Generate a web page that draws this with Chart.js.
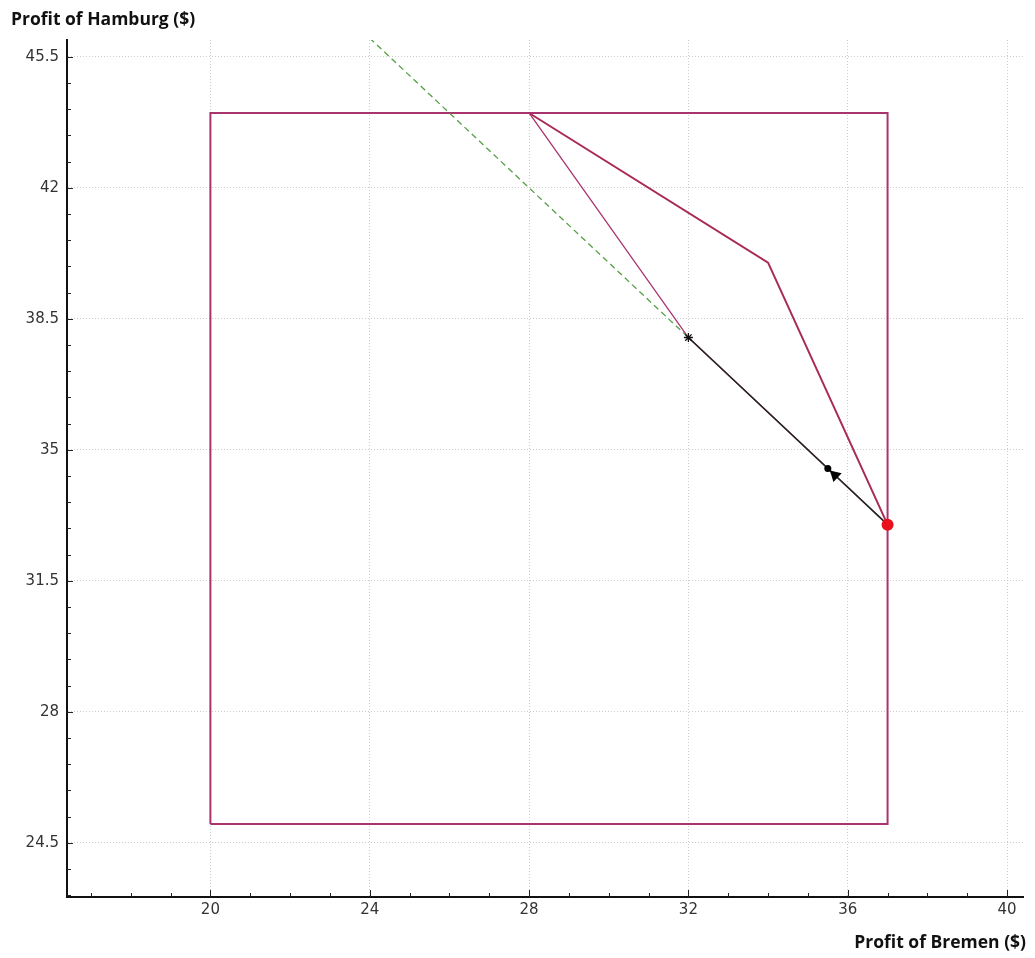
<!DOCTYPE html>
<html>
<head>
<meta charset="utf-8">
<script src="https://cdn.jsdelivr.net/npm/chart.js@4.4.1/dist/chart.umd.min.js"></script>
<style>
  html, body { margin: 0; padding: 0; background: #fff; }
  #wrap { position: relative; width: 1035px; height: 958px; }
</style>
</head>
<body>
<div id="wrap"><canvas id="c" width="1035" height="958"></canvas></div>
<script>
// Feasible profit region (rectangle of attainable profits)
const boxX = [20, 37, 37, 20, 20];
const boxY = [25, 25, 44, 44, 25];
// Outer frontier
const frontierX = [28, 34, 37];
const frontierY = [44, 40, 33];
// Inner path through the bargaining point
const innerX = [28, 32, 37];
const innerY = [44, 38, 33];
// Iso-sum line x + y = 70
const isoX = [24, 32];
const isoY = [46, 38];
// Adjustment path from the disagreement point
const pathX = [37, 32];
const pathY = [33, 38];
// Marked points
const threatPt = { x: 37, y: 33 };
const solutionPt = { x: 32, y: 38 };
const currentPt = { x: 35.5, y: 34.5 };
const arrowPt = { x: 35.68, y: 34.32 };
// Axis ticks
const xTicks = [20, 24, 28, 32, 36, 40];
const yTicks = [24.5, 28, 31.5, 35, 38.5, 42, 45.5];
const xMinorStep = 1;
const yMinorStep = 0.7;

const zip = (xs, ys) => xs.map((x, i) => ({ x, y: ys[i] }));

const tickFont = { family: 'DejaVu Sans', size: 15 };

// Inward tick marks (major and minor) plus axis titles
const axisDecor = {
  id: 'axisDecor',
  afterDraw(chart) {
    const ctx = chart.ctx;
    const xs = chart.scales.x, ys = chart.scales.y;
    const area = chart.chartArea;
    ctx.save();
    ctx.strokeStyle = '#222';
    ctx.lineWidth = 1;
    ctx.beginPath();
    const xStart = Math.ceil(xs.min);
    for (let v = xStart; v <= xs.max + 1e-9; v += xMinorStep) {
      const px = Math.round(xs.getPixelForValue(v)) + 0.5;
      const major = xTicks.some(t => Math.abs(t - v) < 1e-6);
      const len = major ? 7 : 4;
      ctx.moveTo(px, area.bottom);
      ctx.lineTo(px, area.bottom - len);
    }
    const base = yTicks[0];
    let k0 = Math.ceil((ys.min - base) / yMinorStep - 1e-9);
    for (let k = k0; base + k * yMinorStep <= ys.max + 1e-9; k++) {
      const v = base + k * yMinorStep;
      const py = Math.round(ys.getPixelForValue(v)) + 0.5;
      const major = yTicks.some(t => Math.abs(t - v) < 1e-6);
      const len = major ? 6 : 4;
      ctx.moveTo(area.left, py);
      ctx.lineTo(area.left + len, py);
    }
    ctx.stroke();

    ctx.fillStyle = '#111';
    ctx.font = 'bold 17.5px "Open Sans"';
    ctx.textBaseline = 'alphabetic';
    ctx.textAlign = 'left';
    ctx.fillText('Profit of Hamburg ($)', 11, 25);
    ctx.textAlign = 'right';
    ctx.fillText('Profit of Bremen ($)', 1026, 948);
    ctx.restore();
  }
};

new Chart(document.getElementById('c'), {
  type: 'scatter',
  data: {
    datasets: [
      { data: zip(boxX, boxY), showLine: true, borderColor: '#a8336f', borderWidth: 2, pointRadius: 0, order: 6 },
      { data: zip(frontierX, frontierY), showLine: true, borderColor: '#a82a55', borderWidth: 2, pointRadius: 0, order: 5 },
      { data: zip(innerX, innerY), showLine: true, borderColor: '#a8336f', borderWidth: 1.3, pointRadius: 0, order: 4 },
      { data: zip(isoX, isoY), showLine: true, borderColor: '#55a045', borderWidth: 1.3, borderDash: [6, 4], pointRadius: 0, order: 3 },
      { data: zip(pathX, pathY), showLine: true, borderColor: '#222', borderWidth: 1.5, pointRadius: 0, order: 2 },
      { data: [solutionPt], pointStyle: 'star', pointRadius: 4.5, borderColor: '#111', borderWidth: 1.3, backgroundColor: '#111', order: 1 },
      { data: [currentPt], pointStyle: 'circle', pointRadius: 3.5, borderColor: '#000', backgroundColor: '#000', borderWidth: 0, order: 1 },
      { data: [arrowPt], pointStyle: 'triangle', pointRadius: 7, rotation: -47, borderColor: '#000', backgroundColor: '#000', borderWidth: 0, order: 1 },
      { data: [threatPt], pointStyle: 'circle', pointRadius: 6, borderColor: '#e8101c', backgroundColor: '#e8101c', borderWidth: 0, order: 0 }
    ]
  },
  options: {
    responsive: false,
    animation: false,
    events: [],
    layout: { padding: { top: 40, right: 12, left: 0, bottom: 0 } },
    plugins: { legend: { display: false }, tooltip: { enabled: false } },
    scales: {
      x: {
        type: 'linear',
        min: 16.4,
        max: 40.4,
        afterBuildTicks: s => { s.ticks = xTicks.map(v => ({ value: v })); },
        afterFit: s => { s.height = 61; },
        ticks: { font: tickFont, color: '#333', padding: 4, maxRotation: 0, autoSkip: false, callback: v => String(v) },
        grid: { color: '#cccccc', lineWidth: 1, drawTicks: false },
        border: { display: true, color: '#111', width: 2, dash: [1, 2] },
      },
      y: {
        type: 'linear',
        min: 23.05,
        max: 45.95,
        afterBuildTicks: s => { s.ticks = yTicks.map(v => ({ value: v })); },
        afterFit: s => { s.width = 67; },
        ticks: { font: tickFont, color: '#333', padding: 8, autoSkip: false, callback: v => String(v) },
        grid: { color: '#cccccc', lineWidth: 1, drawTicks: false },
        border: { display: true, color: '#111', width: 2, dash: [1, 2] },
      }
    }
  },
  plugins: [axisDecor]
});
</script>
</body>
</html>
